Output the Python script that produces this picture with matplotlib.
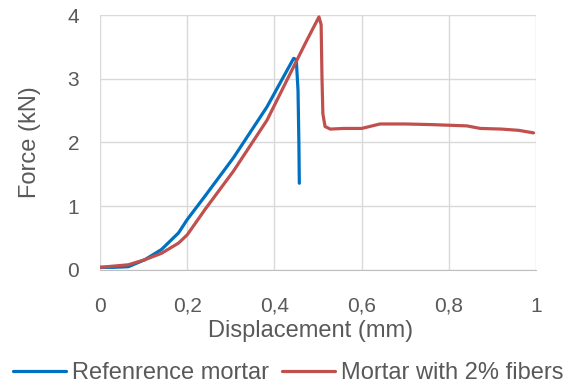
import matplotlib
matplotlib.use("Agg")
import matplotlib.pyplot as plt
import numpy as np

plt.rcParams['font.family'] = ['Liberation Sans', 'DejaVu Sans']

# displacement (mm) / force (kN)
ref_x = [0, 0.03, 0.065, 0.103, 0.141, 0.18, 0.2, 0.241, 0.306, 0.383, 0.444, 0.45, 0.454, 0.456, 0.457]
ref_f = [0.04, 0.04, 0.05, 0.16, 0.32, 0.58, 0.79, 1.16, 1.76, 2.56, 3.32, 3.3, 2.82, 2.0, 1.36]

fib_x = [0, 0.065, 0.103, 0.141, 0.18, 0.2, 0.241, 0.306, 0.383, 0.436, 0.474, 0.502, 0.507, 0.509, 0.511, 0.516, 0.528,
         0.56, 0.6, 0.642, 0.7, 0.76, 0.841, 0.872, 0.92, 0.96, 0.994]
fib_f = [0.04, 0.08, 0.16, 0.26, 0.42, 0.55, 0.95, 1.55, 2.35, 3.08, 3.6, 3.97, 3.85, 3.0, 2.45, 2.25, 2.21,
         2.22, 2.22, 2.29, 2.29, 2.28, 2.26, 2.22, 2.21, 2.19, 2.15]

labels = ['Refenrence mortar', 'Mortar with 2% fibers']
colors = ['#0070C0', '#C0504D']

fig = plt.figure(figsize=(5.68, 3.85), dpi=100)
ax = fig.add_axes([0.176, 0.299, 0.768, 0.662])

ax.plot(ref_x, ref_f, color=colors[0], lw=2.3, label=labels[0], solid_capstyle='round')
ax.plot(fib_x, fib_f, color=colors[1], lw=2.3, label=labels[1], solid_capstyle='round')

ax.set_xlim(0, 1)
ax.set_ylim(0, 4)
ax.set_xticks(np.arange(0, 1.01, 0.2))
ax.set_xticklabels(['0', '0,2', '0,4', '0,6', '0,8', '1'])
ax.set_yticks([0, 1, 2, 3, 4])
ax.grid(True, color='#D9D9D9', lw=1)
ax.set_axisbelow(True)
for s in ['top', 'right', 'left']:
    ax.spines[s].set_visible(False)
ax.spines['bottom'].set_color('#BFBFBF')
ax.tick_params(length=0, labelsize=15, colors='#595959')
ax.tick_params(axis='x', pad=19.5)
ax.tick_params(axis='y', pad=15)
ax.set_xlabel('Displacement (mm)', fontsize=17, color='#595959', labelpad=3, x=0.482)
ax.set_ylabel('Force (kN)', fontsize=17, color='#595959', labelpad=19)

fig.legend(loc='center', bbox_to_anchor=(0.508, 0.031), ncol=2, frameon=False,
           fontsize=17, labelcolor='#595959', handlelength=2.25, handletextpad=0.25, columnspacing=0.55,
           borderpad=0, borderaxespad=0)

fig.savefig('out.png', dpi=100)
